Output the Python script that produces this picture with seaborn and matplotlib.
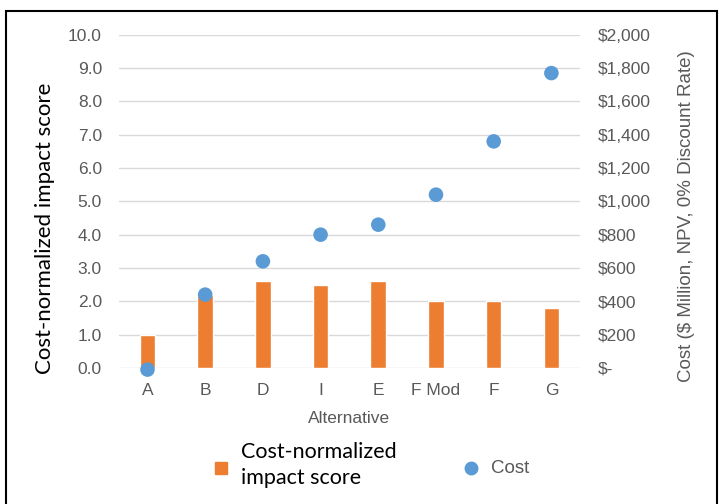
import numpy as np
import matplotlib
matplotlib.use("Agg")
import matplotlib.pyplot as plt
import seaborn as sns
from matplotlib.lines import Line2D
from matplotlib.patches import Rectangle
from matplotlib.ticker import FuncFormatter, MultipleLocator

# data
alternatives = ["A", "B", "D", "I", "E", "F Mod", "F", "G"]
impact_score = [1.0, 2.2, 2.6, 2.5, 2.6, 2.0, 2.0, 1.8]
cost_musd = [-10, 440, 640, 800, 860, 1040, 1360, 1770]

ORANGE = "#ed7d31"
BLUE = "#5b9bd5"
GRAY = "#595959"

sns.set_theme(style="white")
plt.rcParams["font.family"] = ["Liberation Sans", "DejaVu Sans"]

fig = plt.figure(figsize=(7.19, 5.04), dpi=100)
ax = fig.add_axes([0.165, 0.270, 0.642, 0.661])

sns.barplot(x=alternatives, y=impact_score, color=ORANGE, width=0.27,
            saturation=1, ax=ax, zorder=3)
ax.set_ylim(0, 10)
ax.set_xlim(-0.5, len(alternatives) - 0.5)
ax.yaxis.set_major_locator(MultipleLocator(1))
ax.yaxis.set_major_formatter(FuncFormatter(lambda v, p: f"{v:.1f}"))
ax.grid(axis="y", color="#d9d9d9", linewidth=1, zorder=0)
ax.set_axisbelow(True)
for s in ax.spines.values():
    s.set_visible(False)
ax.tick_params(axis="y", colors=GRAY, labelsize=12.5, length=0, pad=12)
ax.tick_params(axis="x", colors=GRAY, labelsize=12.5, length=0, pad=11)
ax.set_xlabel("Alternative", color=GRAY, fontsize=12.5, labelpad=9)
ax.set_ylabel("Cost-normalized impact score", fontsize=16, color="black",
              family=["Lato", "DejaVu Sans"])
ax.yaxis.set_label_coords(-0.138, 0.42)

ax2 = ax.twinx()
sns.scatterplot(x=alternatives, y=cost_musd, color=BLUE, s=110,
                edgecolor="none", ax=ax2, zorder=4, clip_on=False)
ax2.set_ylim(0, 2000)
ax2.yaxis.set_major_locator(MultipleLocator(200))
ax2.yaxis.set_major_formatter(
    FuncFormatter(lambda v, p: "$-" if abs(v) < 1e-9 else f"${v:,.0f}"))
for s in ax2.spines.values():
    s.set_visible(False)
ax2.tick_params(axis="y", colors=GRAY, labelsize=12.5, length=0, pad=13)
ax2.set_ylabel("Cost ($ Million, NPV, 0% Discount Rate)", color=GRAY,
               fontsize=13.5)
ax2.yaxis.set_label_coords(1.211, 0.455)

handles = [
    Line2D([], [], marker="s", linestyle="none", color=ORANGE, markersize=8),
    Line2D([], [], marker="o", linestyle="none", color=BLUE, markersize=9),
]
leg = fig.legend(handles, ["Cost-normalized\nimpact score", "Cost"], ncol=2,
                 loc="center", bbox_to_anchor=(0.515, 0.077), frameon=False,
                 columnspacing=4.3, handletextpad=0.7, handlelength=1.2)
leg.get_texts()[0].set_color("black")
leg.get_texts()[0].set_fontsize(15.5)
leg.get_texts()[0].set_family(["Lato", "DejaVu Sans"])
leg.get_texts()[0].set_linespacing(1.4)
leg.get_texts()[1].set_color(GRAY)
leg.get_texts()[1].set_fontsize(13.5)

# outer frame of the pasted chart
fig.patches.append(Rectangle((0.008, -0.01), 0.989, 0.988, transform=fig.transFigure,
                             fill=False, edgecolor="black", linewidth=1.5))

fig.savefig("out.png", dpi=100)
